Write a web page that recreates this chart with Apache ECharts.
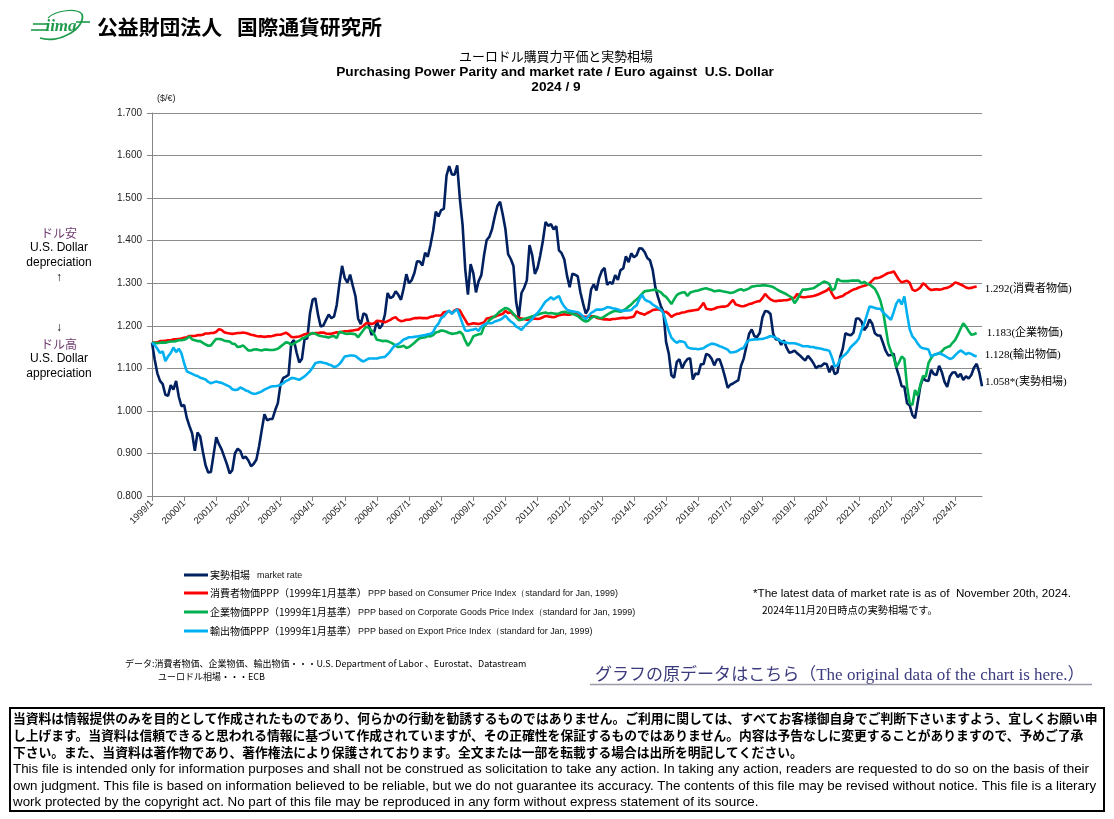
<!DOCTYPE html>
<html><head><meta charset="utf-8">
<script src="https://cdn.jsdelivr.net/npm/echarts@6/dist/echarts.min.js"></script>
<style>html,body{margin:0;padding:0;background:#fff}#c{width:1114px;height:819px}</style>
</head><body><div id="c"></div>
<script>
// ---------- DATA (monthly, from 1999/1) ----------
const startYear = 1999;
const marketRate = [
1.1608,1.1208,1.0883,1.0704,1.0628,1.0378,1.0353,1.0604,1.0501,1.0706,1.0338,1.0110,
1.0137,0.9834,0.9643,0.9470,0.9060,0.9492,0.9397,0.9041,0.8721,0.8552,0.8564,0.8973,
0.9383,0.9217,0.9095,0.8920,0.8742,0.8532,0.8607,0.9005,0.9111,0.9059,0.8883,0.8924,
0.8833,0.8700,0.8758,0.8858,0.9170,0.9554,0.9922,0.9778,0.9808,0.9811,1.0014,1.0183,
1.0622,1.0773,1.0807,1.0848,1.1582,1.1663,1.1372,1.1139,1.1222,1.1692,1.1702,1.2286,
1.2613,1.2646,1.2262,1.1985,1.2007,1.2138,1.2266,1.2176,1.2218,1.2490,1.2991,1.3408,
1.3119,1.3014,1.3201,1.2938,1.2694,1.2165,1.2037,1.2292,1.2256,1.2015,1.1786,1.1856,
1.2103,1.1938,1.2020,1.2271,1.2770,1.2650,1.2684,1.2811,1.2727,1.2611,1.2881,1.3213,
1.2999,1.3074,1.3242,1.3516,1.3511,1.3419,1.3716,1.3622,1.3896,1.4227,1.4684,1.4570,
1.4718,1.4748,1.5527,1.5751,1.5557,1.5553,1.5770,1.4975,1.4370,1.3322,1.2732,1.3449,
1.3239,1.2785,1.3050,1.3190,1.3650,1.4016,1.4088,1.4268,1.4562,1.4816,1.4914,1.4614,
1.4272,1.3686,1.3569,1.3406,1.2565,1.2209,1.2770,1.2894,1.3067,1.3898,1.3661,1.3220,
1.3360,1.3649,1.3999,1.4442,1.4349,1.4388,1.4264,1.4343,1.3770,1.3706,1.3556,1.3179,
1.2905,1.3224,1.3201,1.3162,1.2789,1.2526,1.2288,1.2400,1.2856,1.2974,1.2828,1.3119,
1.3288,1.3359,1.2964,1.3026,1.2982,1.3189,1.3080,1.3310,1.3348,1.3635,1.3493,1.3704,
1.3610,1.3659,1.3823,1.3813,1.3732,1.3592,1.3539,1.3316,1.2901,1.2673,1.2472,1.2331,
1.1621,1.1350,1.0838,1.0779,1.1150,1.1213,1.0996,1.1139,1.1221,1.1235,1.0736,1.0877,
1.0860,1.1093,1.1100,1.1339,1.1311,1.1229,1.1069,1.1208,1.1212,1.1026,1.0799,1.0543,
1.0614,1.0643,1.0685,1.0723,1.1058,1.1229,1.1511,1.1807,1.1915,1.1756,1.1738,1.1836,
1.2200,1.2348,1.2336,1.2276,1.1812,1.1678,1.1686,1.1549,1.1659,1.1484,1.1367,1.1384,
1.1416,1.1351,1.1302,1.1238,1.1185,1.1293,1.1218,1.1126,1.1004,1.1053,1.1051,1.1113,
1.1100,1.0905,1.1063,1.0862,1.0902,1.1255,1.1463,1.1828,1.1792,1.1775,1.1838,1.2170,
1.2171,1.2098,1.1899,1.1979,1.2146,1.2047,1.1822,1.1772,1.1770,1.1601,1.1414,1.1304,
1.1314,1.1342,1.1019,1.0819,1.0579,1.0566,1.0179,1.0128,0.9904,0.9826,1.0201,1.0589,
1.0769,1.0715,1.0706,1.0968,1.0868,1.0840,1.1058,1.0909,1.0684,1.0563,1.0808,1.0903,
1.0905,1.0795,1.0872,1.0728,1.0812,1.0759,1.0844,1.1012,1.1106,1.0904,1.058
];
const cpiPPP = [
1.161,1.160,1.161,1.164,1.164,1.165,1.166,1.166,1.168,1.168,1.169,1.170,
1.172,1.173,1.176,1.176,1.176,1.178,1.178,1.179,1.182,1.182,1.183,1.183,
1.186,1.192,1.190,1.185,1.183,1.182,1.181,1.182,1.183,1.183,1.184,1.183,
1.181,1.179,1.178,1.176,1.175,1.175,1.174,1.175,1.175,1.176,1.178,1.179,
1.179,1.181,1.184,1.180,1.174,1.173,1.174,1.175,1.177,1.180,1.181,1.181,
1.182,1.183,1.183,1.184,1.184,1.182,1.181,1.181,1.183,1.185,1.184,1.186,
1.187,1.187,1.188,1.189,1.190,1.191,1.196,1.200,1.206,1.206,1.204,1.206,
1.212,1.211,1.210,1.208,1.211,1.214,1.218,1.220,1.214,1.211,1.212,1.214,
1.214,1.216,1.218,1.218,1.219,1.218,1.218,1.218,1.221,1.222,1.224,1.224,
1.224,1.232,1.233,1.234,1.229,1.236,1.239,1.236,1.224,1.214,1.203,1.204,
1.206,1.205,1.204,1.206,1.208,1.217,1.218,1.221,1.221,1.224,1.226,1.228,
1.235,1.230,1.232,1.226,1.222,1.218,1.217,1.216,1.214,1.214,1.216,1.217,
1.216,1.217,1.220,1.223,1.222,1.221,1.220,1.222,1.225,1.226,1.227,1.226,
1.226,1.228,1.229,1.230,1.223,1.222,1.221,1.221,1.222,1.222,1.219,1.217,
1.216,1.215,1.215,1.214,1.216,1.216,1.217,1.218,1.219,1.218,1.219,1.220,
1.222,1.234,1.230,1.228,1.226,1.230,1.233,1.237,1.238,1.239,1.237,1.232,
1.233,1.228,1.221,1.225,1.228,1.229,1.231,1.232,1.234,1.235,1.236,1.237,
1.238,1.245,1.254,1.240,1.239,1.238,1.240,1.243,1.244,1.245,1.245,1.247,
1.254,1.261,1.250,1.248,1.246,1.246,1.248,1.251,1.252,1.255,1.257,1.258,
1.265,1.275,1.268,1.262,1.259,1.258,1.259,1.259,1.260,1.260,1.262,1.264,
1.266,1.275,1.269,1.267,1.267,1.268,1.269,1.270,1.272,1.274,1.277,1.280,
1.283,1.289,1.275,1.265,1.266,1.268,1.270,1.275,1.278,1.282,1.285,1.287,
1.290,1.292,1.294,1.296,1.300,1.306,1.312,1.312,1.314,1.317,1.321,1.324,
1.325,1.328,1.318,1.308,1.302,1.304,1.306,1.301,1.285,1.282,1.285,1.290,
1.300,1.295,1.288,1.284,1.285,1.286,1.285,1.286,1.288,1.289,1.292,1.296,
1.302,1.300,1.297,1.294,1.290,1.288,1.289,1.291,1.292
];
const cgpiPPP = [
1.160,1.160,1.159,1.160,1.161,1.160,1.162,1.163,1.163,1.164,1.166,1.166,
1.167,1.170,1.175,1.168,1.166,1.164,1.164,1.160,1.156,1.153,1.154,1.162,
1.169,1.169,1.168,1.165,1.164,1.163,1.158,1.157,1.150,1.151,1.154,1.148,
1.142,1.142,1.144,1.145,1.143,1.142,1.144,1.144,1.143,1.143,1.144,1.146,
1.151,1.156,1.161,1.160,1.155,1.158,1.162,1.165,1.170,1.172,1.176,1.180,
1.183,1.181,1.178,1.176,1.175,1.174,1.172,1.175,1.176,1.171,1.186,1.184,
1.182,1.181,1.182,1.181,1.180,1.173,1.182,1.190,1.198,1.195,1.189,1.180,
1.167,1.166,1.164,1.165,1.164,1.161,1.158,1.153,1.150,1.151,1.153,1.148,
1.150,1.155,1.160,1.166,1.171,1.172,1.173,1.176,1.175,1.178,1.184,1.186,
1.189,1.188,1.186,1.183,1.181,1.182,1.183,1.186,1.180,1.165,1.153,1.162,
1.175,1.178,1.180,1.181,1.198,1.205,1.213,1.218,1.222,1.228,1.234,1.238,
1.242,1.240,1.235,1.228,1.220,1.213,1.214,1.216,1.218,1.220,1.222,1.224,
1.226,1.228,1.230,1.231,1.229,1.230,1.229,1.228,1.229,1.232,1.233,1.231,
1.230,1.228,1.226,1.223,1.218,1.213,1.210,1.212,1.218,1.222,1.221,1.219,
1.218,1.222,1.226,1.230,1.233,1.235,1.234,1.233,1.236,1.240,1.245,1.250,
1.257,1.262,1.268,1.275,1.281,1.282,1.283,1.284,1.285,1.282,1.279,1.272,
1.268,1.260,1.251,1.262,1.272,1.276,1.278,1.279,1.270,1.278,1.280,1.282,
1.283,1.285,1.287,1.288,1.286,1.284,1.281,1.282,1.283,1.281,1.280,1.279,
1.277,1.278,1.281,1.284,1.286,1.283,1.285,1.288,1.292,1.293,1.294,1.294,
1.295,1.295,1.294,1.293,1.291,1.287,1.283,1.280,1.277,1.274,1.270,1.266,
1.253,1.262,1.274,1.285,1.285,1.286,1.287,1.288,1.292,1.296,1.300,1.304,
1.302,1.298,1.283,1.287,1.310,1.306,1.305,1.305,1.305,1.306,1.306,1.306,
1.306,1.300,1.303,1.299,1.297,1.292,1.287,1.275,1.260,1.236,1.197,1.158,
1.140,1.126,1.103,1.114,1.128,1.122,1.058,1.018,1.014,1.049,1.036,1.062,
1.082,1.080,1.112,1.124,1.132,1.133,1.135,1.140,1.147,1.150,1.152,1.160,
1.167,1.179,1.193,1.206,1.198,1.188,1.179,1.180,1.183
];
const exportPPP = [
1.160,1.155,1.146,1.136,1.140,1.117,1.128,1.136,1.149,1.138,1.146,1.135,
1.112,1.093,1.090,1.087,1.084,1.082,1.078,1.076,1.074,1.068,1.065,1.067,
1.069,1.067,1.066,1.063,1.060,1.057,1.051,1.049,1.050,1.055,1.052,1.048,
1.046,1.042,1.040,1.041,1.043,1.046,1.050,1.053,1.056,1.058,1.058,1.059,
1.061,1.065,1.070,1.073,1.077,1.077,1.075,1.073,1.077,1.081,1.087,1.093,
1.102,1.112,1.114,1.115,1.113,1.112,1.109,1.107,1.103,1.105,1.110,1.118,
1.128,1.129,1.130,1.130,1.129,1.124,1.119,1.116,1.120,1.123,1.123,1.123,
1.123,1.125,1.126,1.127,1.133,1.140,1.149,1.155,1.157,1.162,1.168,1.170,
1.173,1.173,1.174,1.175,1.176,1.177,1.178,1.180,1.181,1.185,1.198,1.205,
1.218,1.222,1.230,1.236,1.228,1.234,1.239,1.222,1.205,1.189,1.188,1.190,
1.191,1.193,1.188,1.198,1.202,1.206,1.206,1.206,1.210,1.212,1.214,1.218,
1.224,1.216,1.210,1.206,1.198,1.195,1.190,1.198,1.204,1.210,1.216,1.224,
1.230,1.238,1.248,1.257,1.262,1.267,1.262,1.266,1.270,1.255,1.245,1.238,
1.235,1.234,1.233,1.232,1.228,1.222,1.216,1.222,1.230,1.234,1.238,1.238,
1.238,1.240,1.244,1.243,1.241,1.240,1.238,1.236,1.235,1.236,1.236,1.237,
1.244,1.248,1.262,1.273,1.262,1.258,1.256,1.250,1.246,1.242,1.238,1.230,
1.208,1.188,1.172,1.165,1.160,1.164,1.163,1.161,1.150,1.147,1.146,1.146,
1.145,1.146,1.147,1.152,1.155,1.158,1.157,1.155,1.152,1.150,1.147,1.144,
1.137,1.138,1.139,1.142,1.146,1.148,1.160,1.166,1.167,1.168,1.168,1.169,
1.169,1.171,1.173,1.176,1.174,1.172,1.167,1.164,1.161,1.160,1.159,1.159,
1.159,1.157,1.155,1.152,1.152,1.152,1.150,1.150,1.148,1.147,1.146,1.144,
1.143,1.141,1.125,1.104,1.107,1.121,1.128,1.133,1.140,1.150,1.156,1.162,
1.170,1.190,1.205,1.225,1.245,1.244,1.242,1.240,1.240,1.232,1.226,1.220,
1.214,1.232,1.252,1.262,1.250,1.269,1.228,1.192,1.175,1.168,1.158,1.150,
1.147,1.146,1.144,1.128,1.131,1.134,1.136,1.133,1.130,1.126,1.122,1.124,
1.131,1.137,1.142,1.138,1.133,1.136,1.134,1.130,1.128
];
const seriesNames = ['実勢相場','消費者物価PPP','企業物価PPP','輸出物価PPP'];
const endLabelTexts = ['*(実勢相場)','(消費者物価)','(企業物価)','(輸出物価)'];
const yTickLabels = {min:0.8, max:1.7, step:0.1};
const categories = [];
for (let i = 0; i < marketRate.length; i++) {
  categories.push((startYear + Math.floor(i / 12)) + '/' + (i % 12 + 1));
}

// ---------- helpers ----------
const mctx = document.createElement('canvas').getContext('2d');
function measure(text, weight, family, size) {
  mctx.font = weight + ' ' + size + 'px ' + family;
  return mctx.measureText(text).width;
}
function fit(text, weight, family, width) {
  return 100 * width / measure(text, weight, family, 100);
}
const JP = '"Noto Sans CJK JP", sans-serif';
const SANS = '"Liberation Sans", Arial, sans-serif';
const SERIF = '"Liberation Serif", "Noto Sans CJK JP", serif';
function txt(text, x, y, opt) {
  opt = opt || {};
  const size = opt.size || 12, fam = opt.family || SANS, w = opt.weight || 'normal';
  return {type:'text', silent:true, z: 100, x:x, y:y, scaleX: opt.scaleX || 1, style:{
    text:text, x:0, y:0, fill:opt.fill || '#000',
    font: (opt.italic ? 'italic ' : '') + w + ' ' + size.toFixed(2) + 'px ' + fam,
    align: opt.align || 'left', textAlign: opt.align || 'left',
    verticalAlign:'middle', textVerticalAlign:'middle'}};
}
function ln(x1,y1,x2,y2,color,w){
  return {type:'line', silent:true, z:100, shape:{x1:x1,y1:y1,x2:x2,y2:y2}, style:{stroke:color, lineWidth:w}};
}

const colors = ['#002060','#FF0000','#00B050','#00B0F0'];
const graphics = [];
// Logo
const G = '#1E9A4B';
graphics.push(ln(33,24,49,24,G,1.6), ln(31,30,47,30,G,1.6), ln(76,22,90,22,G,1.6));
graphics.push(txt('iima', 61, 27, {size:17, family:'"Liberation Serif", serif', italic:true, weight:'bold', fill:G, align:'center'}));
graphics.push({type:'bezierCurve', silent:true, z:100, shape:{x1:40,y1:38,cpx1:60,cpy1:44,cpx2:86,cpy2:28,x2:82,y2:14}, style:{stroke:G, lineWidth:1.8, fill:null}});
graphics.push({type:'bezierCurve', silent:true, z:100, shape:{x1:82,y1:14,cpx1:76,cpy1:8,cpx2:56,cpy2:10,x2:48,y2:18}, style:{stroke:G, lineWidth:1.2, fill:null}});
// Header
graphics.push(txt('公益財団法人', 97, 27, {size:fit('公益財団法人','bold',JP,125), family:JP, weight:'bold'}));
graphics.push(txt('国際通貨研究所', 237, 27, {size:fit('国際通貨研究所','bold',JP,145), family:JP, weight:'bold'}));
// Titles
const t1 = 'ユーロドル購買力平価と実勢相場';
const t2 = 'Purchasing Power Parity and market rate / Euro against  U.S. Dollar';
const t2size = fit(t2,'bold',SANS,438);
graphics.push(txt(t1, 556, 56, {size:fit(t1,'normal',JP,194), family:JP, align:'center'}));
graphics.push(txt(t2, 555, 72, {size:t2size, weight:'bold', align:'center'}));
graphics.push(txt('2024 / 9', 556, 87, {size:t2size, weight:'bold', align:'center'}));
graphics.push(txt('($/€)', 157, 99, {size:9, fill:'#222'}));
// Left annotations
const P = '#6e3a6e';
graphics.push(txt('ドル安', 59, 233, {size:12, family:JP, fill:P, align:'center'}));
graphics.push(txt('U.S. Dollar', 59, 248, {size:12, align:'center'}));
graphics.push(txt('depreciation', 59, 263, {size:12, align:'center'}));
graphics.push(txt('↑', 59, 278, {size:12, align:'center'}));
graphics.push(txt('↓', 59, 328, {size:12, align:'center'}));
graphics.push(txt('ドル高', 59, 344, {size:12, family:JP, fill:P, align:'center'}));
graphics.push(txt('U.S. Dollar', 59, 359, {size:12, align:'center'}));
graphics.push(txt('appreciation', 59, 374, {size:12, align:'center'}));
// Legend
const legRows = [575, 593, 612, 631];
const legJP = ['実勢相場','消費者物価PPP（1999年1月基準）','企業物価PPP（1999年1月基準）','輸出物価PPP（1999年1月基準）'];
const legEN = ['market rate','PPP based on Consumer Price Index（standard for Jan, 1999)','PPP based on Corporate Goods Price Index（standard for Jan, 1999)','PPP based on Export Price Index（standard for Jan, 1999)'];
const legENx = [257, 368, 358, 358];
const enSize = fit(legEN[1], 'normal', SANS, 250);
for (let i = 0; i < 4; i++) {
  graphics.push(ln(184, legRows[i], 208, legRows[i], colors[i], 3));
  graphics.push(txt(legJP[i], 210, legRows[i], {size:10, family:JP}));
  graphics.push(txt(legEN[i], legENx[i], legRows[i]+1, {size:enSize, fill:'#111'}));
}
// Notes
const n1 = '*The latest data of market rate is as of  November 20th, 2024.';
graphics.push(txt(n1, 753, 594, {size:fit(n1,'normal',SANS,318)}));
const n2 = '2024年11月20日時点の実勢相場です。';
graphics.push(txt(n2, 762, 610, {size:fit(n2,'normal',JP,176), family:JP}));
const d1 = 'データ:消費者物価、企業物価、輸出物価・・・U.S. Department of Labor 、Eurostat、Datastream';
const dSize = fit(d1,'normal',JP,402);
graphics.push(txt(d1, 125, 664, {size:dSize, family:JP}));
graphics.push(txt('ユーロドル相場・・・ECB', 158, 677, {size:dSize, family:JP}));
const lk = 'グラフの原データはこちら（The original data of the chart is here.）';
graphics.push(txt(lk, 595, 676, {size:fit(lk,'normal',SERIF,490), family:SERIF, fill:'#3b3b7d'}));
graphics.push(ln(590, 684.5, 1092, 684.5, '#9a9aa8', 1.5));
// Footer
graphics.push({type:'rect', silent:true, z:100, shape:{x:10,y:708,width:1094,height:103}, style:{stroke:'#000', lineWidth:2, fill:null}});
const fJP = ['当資料は情報提供のみを目的として作成されたものであり、何らかの行動を勧誘するものではありません。ご利用に関しては、すべてお客様御自身でご判断下さいますよう、宜しくお願い申',
'し上げます。当資料は信頼できると思われる情報に基づいて作成されていますが、その正確性を保証するものではありません。内容は予告なしに変更することがありますので、予めご了承',
'下さい。また、当資料は著作物であり、著作権法により保護されております。全文または一部を転載する場合は出所を明記してください。'];
const fEN = ['This file is intended only for information purposes and shall not be construed as solicitation to take any action. In taking any action, readers are requested to do so on the basis of their',
'own judgment. This file is based on information believed to be reliable, but we do not guarantee its accuracy. The contents of this file may be revised without notice. This file is a literary',
'work protected by the copyright act. No part of this file may be reproduced in any form without express statement of its source.'];
const fJPsize = fit(fJP[0],'bold',JP,1086);
const fENsize = 13;
const fENscale = 1076 / measure(fEN[0], 'normal', SANS, fENsize);
[718,735,752].forEach((y,i)=>graphics.push(txt(fJP[i], 13, y, {size:fJPsize, family:JP, weight:'bold'})));
[769,786,802].forEach((y,i)=>graphics.push(txt(fEN[i], 13, y, {size:fENsize, family:SANS, scaleX:fENscale})));

// ---------- chart ----------
const dataSets = [marketRate, cpiPPP, cgpiPPP, exportPPP];
const labelOffsets = [[0,-4],[0,2],[2,0],[0,-1]];
const series = dataSets.map((d, i) => ({
  name: seriesNames[i], type:'line', data:d, symbol:'none', showSymbol:false,
  lineStyle:{color:colors[i], width:2.6}, itemStyle:{color:colors[i]},
  z: 2 + i, silent:true,
  endLabel:{show:true, distance: i === 0 ? 3 : 8, offset:labelOffsets[i],
    formatter:(p) => Number(p.value).toFixed(3) + endLabelTexts[i],
    fontFamily:SERIF, fontSize:11, color:'#000'}
}));

const chart = echarts.init(document.getElementById('c'), null, {renderer:'canvas'});
chart.setOption({
  animation:false,
  backgroundColor:'#fff',
  grid:{left:152, top:113, right:132, bottom:323, containLabel:false},
  xAxis:{type:'category', data:categories, boundaryGap:false,
    axisLine:{show:true, lineStyle:{color:'#868686', width:1}},
    axisTick:{show:true, interval:11, length:5, inside:false, lineStyle:{color:'#868686'}},
    axisLabel:{interval:11, rotate:45, fontSize:9.5, color:'#222', margin:6, fontFamily:SANS},
    splitLine:{show:false}},
  yAxis:{type:'value', min:yTickLabels.min, max:yTickLabels.max, interval:yTickLabels.step,
    axisLine:{show:true, lineStyle:{color:'#868686', width:1}},
    axisTick:{show:true, length:5, inside:false, lineStyle:{color:'#868686'}},
    axisLabel:{formatter:(v)=>v.toFixed(3), fontSize:10, color:'#222', margin:10, fontFamily:SANS},
    splitLine:{show:true, lineStyle:{color:'#8c8c8c', width:1}}},
  tooltip:{show:false},
  legend:{show:false},
  series: series,
  graphic: graphics
});
</script>
</body></html>
